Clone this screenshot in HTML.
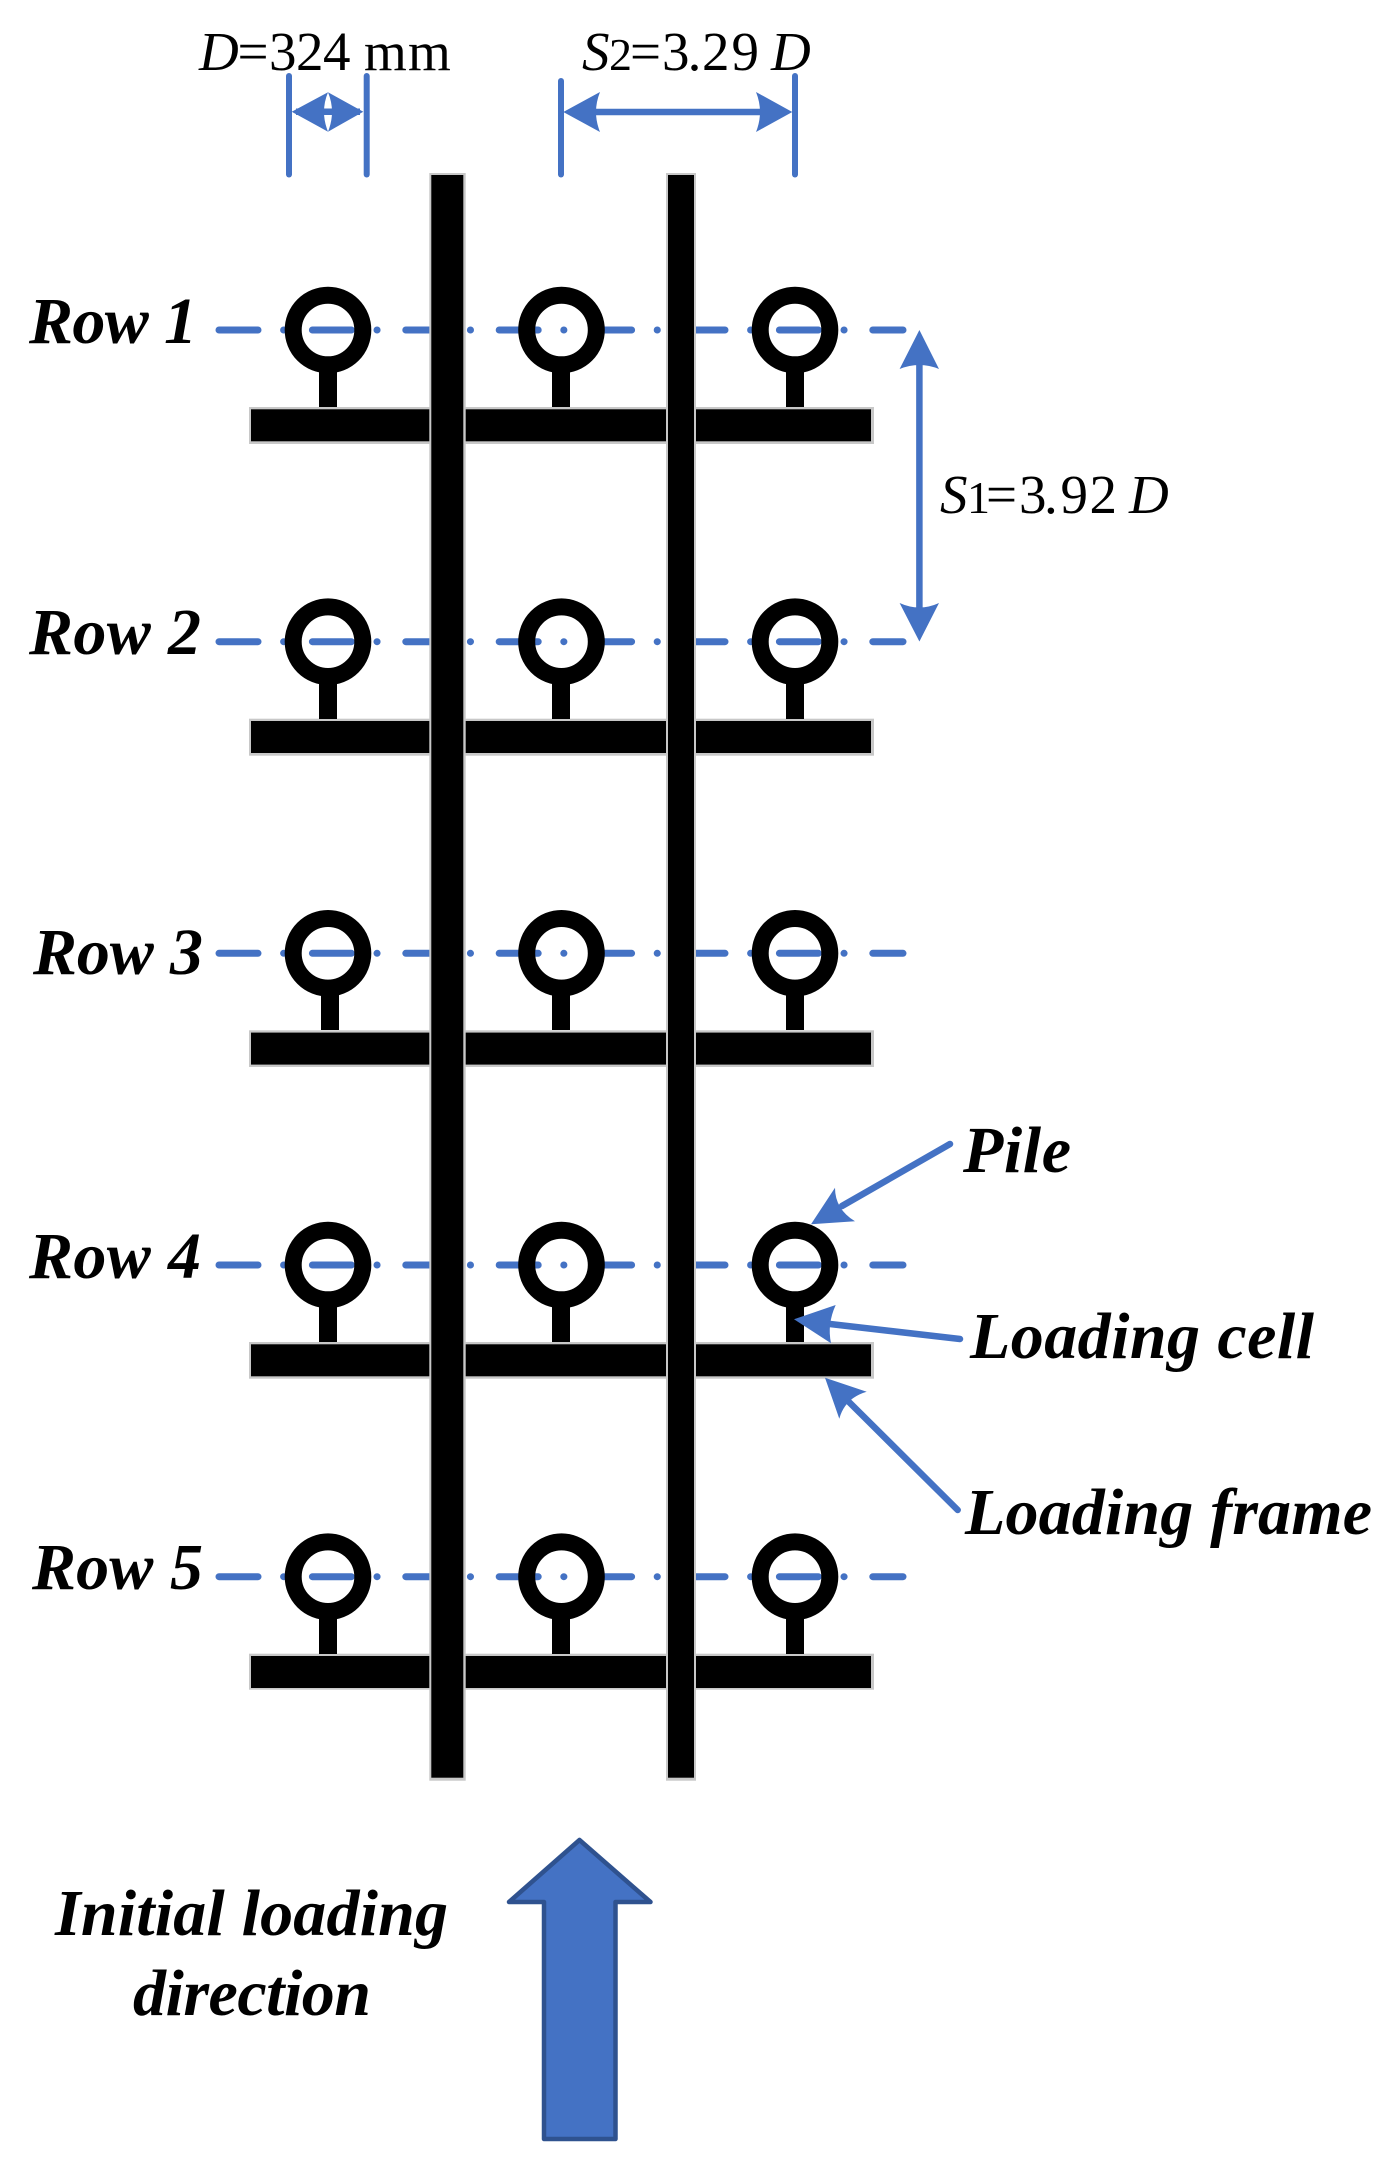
<!DOCTYPE html>
<html lang="en">
<head>
<meta charset="utf-8">
<title>Pile layout diagram</title>
<style>
html,body{margin:0;padding:0;background:#fff;}
svg{display:block;}
text{font-family:"Liberation Serif",serif;fill:#000;}
.b{font-weight:bold;font-style:italic;font-size:66px;}
.r{font-size:55px;}
.i{font-style:italic;}
.s{font-size:46px;}
</style>
</head>
<body>
<svg xmlns="http://www.w3.org/2000/svg" width="1388" height="2166" viewBox="0 0 1388 2166">
<rect width="1388" height="2166" fill="#fff"/>

<!-- horizontal loading frames -->
<g>
<rect x="249" y="407" width="625" height="37" fill="#c8c8c8"/><rect x="251" y="409.3" width="620" height="32" fill="#000"/>
<rect x="249" y="718.7" width="625" height="37" fill="#c8c8c8"/><rect x="251" y="721" width="620" height="32" fill="#000"/>
<rect x="249" y="1030.3" width="625" height="36.7" fill="#c8c8c8"/><rect x="251" y="1032.6" width="620" height="32" fill="#000"/>
<rect x="249" y="1342" width="625" height="36.7" fill="#c8c8c8"/><rect x="251" y="1344.3" width="620" height="32" fill="#000"/>
<rect x="249" y="1653.7" width="625" height="36" fill="#c8c8c8"/><rect x="251" y="1656" width="620" height="32" fill="#000"/>
</g>

<!-- dash-dot row lines -->
<g stroke="#4472c4" stroke-width="7" stroke-linecap="round" stroke-dasharray="39 25.6 0.1 28.7" fill="none">
<line x1="219" y1="330" x2="903" y2="330"/>
<line x1="219" y1="641.7" x2="903" y2="641.7"/>
<line x1="219" y1="953.3" x2="903" y2="953.3"/>
<line x1="219" y1="1265" x2="903" y2="1265"/>
<line x1="219" y1="1576.7" x2="903" y2="1576.7"/>
</g>

<!-- stems -->
<g fill="#000">
<rect x="319" y="365" width="18" height="42"/><rect x="552" y="365" width="18" height="42"/><rect x="786" y="365" width="18" height="42"/>
<rect x="319" y="677" width="18" height="42"/><rect x="552" y="677" width="18" height="42"/><rect x="786" y="677" width="18" height="42"/>
<rect x="321" y="988" width="18" height="42"/><rect x="552" y="988" width="18" height="42"/><rect x="786" y="988" width="18" height="42"/>
<rect x="319" y="1300" width="18" height="42"/><rect x="552" y="1300" width="18" height="42"/><rect x="786" y="1300" width="18" height="42"/>
<rect x="319" y="1612" width="18" height="42"/><rect x="552" y="1612" width="18" height="42"/><rect x="786" y="1612" width="18" height="42"/>
</g>

<!-- piles -->
<g fill="none" stroke="#000" stroke-width="17">
<circle cx="328" cy="330" r="34.8"/><circle cx="561.5" cy="330" r="34.8"/><circle cx="795" cy="330" r="34.8"/>
<circle cx="328" cy="641.7" r="34.8"/><circle cx="561.5" cy="641.7" r="34.8"/><circle cx="795" cy="641.7" r="34.8"/>
<circle cx="328" cy="953.3" r="34.8"/><circle cx="561.5" cy="953.3" r="34.8"/><circle cx="795" cy="953.3" r="34.8"/>
<circle cx="328" cy="1265" r="34.8"/><circle cx="561.5" cy="1265" r="34.8"/><circle cx="795" cy="1265" r="34.8"/>
<circle cx="328" cy="1576.7" r="34.8"/><circle cx="561.5" cy="1576.7" r="34.8"/><circle cx="795" cy="1576.7" r="34.8"/>
</g>

<!-- longitudinal frames -->
<rect x="429.3" y="173" width="36.4" height="1607.7" fill="#c8c8c8"/><rect x="431.3" y="175" width="32" height="1602.7" fill="#000"/>
<rect x="666" y="173" width="30" height="1607.7" fill="#c8c8c8"/><rect x="668" y="175" width="26" height="1602.7" fill="#000"/>

<!-- dimension lines -->
<g stroke="#4472c4" stroke-width="6" stroke-linecap="round" fill="none">
<line x1="289" y1="76" x2="289" y2="174.5"/>
<line x1="366.7" y1="76" x2="366.7" y2="174.5"/>
<line x1="561" y1="81" x2="561" y2="174.5"/>
<line x1="795" y1="76" x2="795" y2="174.5"/>
</g>
<g stroke="#4472c4" stroke-width="6.5" fill="none">
<line x1="296" y1="111.7" x2="360" y2="111.7"/>
<line x1="590" y1="112" x2="765" y2="112"/>
<line x1="919.4" y1="360" x2="919.4" y2="612"/>
</g>
<g stroke="#4472c4" stroke-width="6.5" stroke-linecap="round" fill="none">
<line x1="950" y1="1144" x2="842" y2="1206"/>
<line x1="960" y1="1339" x2="830" y2="1324"/>
<line x1="957.7" y1="1510" x2="849" y2="1402"/>
</g>
<g fill="#4472c4">
<path d="M291.7 111.7L328 92.3Q320 111.7 328 131.7Z"/>
<path d="M363.3 111.7L328 92.3Q336 111.7 328 131.7Z"/>
<path d="M563.3 112L600 92Q592 112 600 132Z"/>
<path d="M792.3 112L756 92Q764 112 756 132Z"/>
<path d="M919.4 330L899.6 369Q919.4 361 939 369Z"/>
<path d="M919.4 641.5L899.6 603Q919.4 612 939 603Z"/>
<path d="M811 1224.3L835 1187.7Q835 1209 855 1221.3Z"/>
<path d="M794 1319.3L835.7 1305Q827 1324 831 1343.3Z"/>
<path d="M825 1377.7L866.7 1391.7Q845 1398 839.3 1418.7Z"/>
</g>

<!-- big arrow -->
<path d="M579.5 1840L509 1902H544V2139H615.5V1902H650.5Z" fill="#4472c4" stroke="#2f528f" stroke-width="4.5" stroke-linejoin="round"/>

<!-- dimension labels -->
<text class="r" y="70"><tspan class="i" x="199">D</tspan><tspan x="237.5 269 296 323">=324 </tspan><tspan x="364 408">mm</tspan></text>
<text class="r" y="70"><tspan class="i" x="582">S</tspan><tspan class="s" x="609">2</tspan><tspan x="630 662 687.6 702 731.5">=3.29 </tspan><tspan class="i" x="771">D</tspan></text>
<text class="r" y="513"><tspan class="i" x="940">S</tspan><tspan class="s" x="967">1</tspan><tspan x="986 1019 1044 1060.5 1089.5">=3.92 </tspan><tspan class="i" x="1129">D</tspan></text>

<!-- row labels -->
<text class="b" x="29" y="343" textLength="168">Row 1</text>
<text class="b" x="29" y="654" textLength="172">Row 2</text>
<text class="b" x="33" y="974" textLength="170">Row 3</text>
<text class="b" x="29" y="1278" textLength="172">Row 4</text>
<text class="b" x="32" y="1589" textLength="171">Row 5</text>

<!-- callouts -->
<text class="b" x="963" y="1172" textLength="108">Pile</text>
<text class="b" x="970" y="1358" textLength="344">Loading cell</text>
<text class="b" x="965" y="1534" textLength="407">Loading frame</text>
<text class="b" x="55" y="1935" textLength="393">Initial loading</text>
<text class="b" x="133" y="2015" textLength="238">direction</text>
</svg>
</body>
</html>
